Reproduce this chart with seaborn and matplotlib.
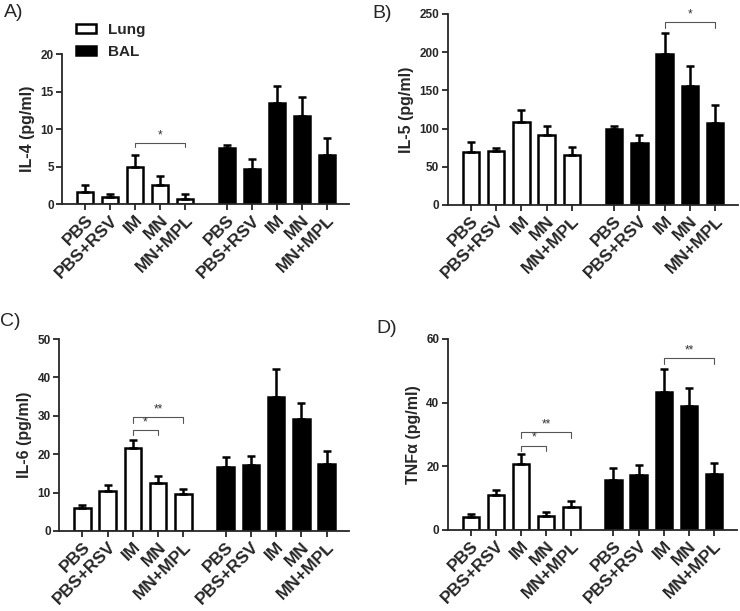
import numpy as np
import pandas as pd
import seaborn as sns
import matplotlib.pyplot as plt

# groups / labels
treatments = ["PBS", "PBS+RSV", "IM", "MN", "MN+MPL"]
groups = ["Lung", "BAL"]

# IL-4 (pg/ml)
il4_lung = [1.6, 0.9, 4.9, 2.5, 0.7]
il4_lung_err = [0.9, 0.5, 1.7, 1.3, 0.6]
il4_bal = [7.5, 4.7, 13.5, 11.8, 6.6]
il4_bal_err = [0.4, 1.3, 2.2, 2.5, 2.2]

# IL-5 (pg/ml)
il5_lung = [70, 71, 108, 91, 66]
il5_lung_err = [12, 3, 16, 12, 10]
il5_bal = [99, 81, 198, 156, 107]
il5_bal_err = [5, 11, 27, 26, 24]

# IL-6 (pg/ml)
il6_lung = [6.1, 10.3, 21.5, 12.6, 9.7]
il6_lung_err = [0.7, 1.8, 2.2, 1.7, 1.3]
il6_bal = [16.7, 17.1, 34.8, 29.1, 17.5]
il6_bal_err = [2.5, 2.5, 7.4, 4.2, 3.4]

# TNFa (pg/ml)
tnf_lung = [4.2, 11.0, 20.6, 4.5, 7.2]
tnf_lung_err = [0.8, 1.7, 3.3, 1.2, 1.8]
tnf_bal = [15.8, 17.3, 43.5, 39.0, 17.5]
tnf_bal_err = [3.7, 3.2, 7.1, 5.7, 3.5]

# significance: (group, idx1, idx2, height, label)
sig_il4 = [("Lung", 2, 4, 8.2, "*")]
sig_il5 = [("BAL", 2, 4, 239, "*")]
sig_il6 = [("Lung", 2, 3, 26.3, "*"), ("Lung", 2, 4, 29.6, "**")]
sig_tnf = [("Lung", 2, 3, 26.5, "*"), ("Lung", 2, 4, 30.7, "**"), ("BAL", 2, 4, 53.9, "**")]

GAP = 1.67
lung_pos = np.arange(5, dtype=float)
bal_pos = lung_pos + 4 + GAP

sns.set_style("ticks")
plt.rcParams["font.family"] = ["Liberation Sans", "DejaVu Sans"]
plt.rcParams["font.weight"] = "bold"
plt.rcParams["axes.linewidth"] = 1.3

fig = plt.figure(figsize=(7.4, 6.11), dpi=100)

panels = [
    ("A)", "IL-4 (pg/ml)", il4_lung, il4_lung_err, il4_bal, il4_bal_err, 20, 5, sig_il4,
     [0.084, 0.666, 0.388, 0.2455]),
    ("B)", "IL-5 (pg/ml)", il5_lung, il5_lung_err, il5_bal, il5_bal_err, 250, 50, sig_il5,
     [0.605, 0.6645, 0.392, 0.3126]),
    ("C)", "IL-6 (pg/ml)", il6_lung, il6_lung_err, il6_bal, il6_bal_err, 50, 10, sig_il6,
     [0.080, 0.131, 0.392, 0.314]),
    ("D)", "TNFα (pg/ml)", tnf_lung, tnf_lung_err, tnf_bal, tnf_bal_err, 60, 20, sig_tnf,
     [0.605, 0.1326, 0.3905, 0.3126]),
]
label_xy = {"A)": (0.005, 0.993), "B)": (0.503, 0.991), "C)": (0.0, 0.488), "D)": (0.508, 0.476)}

for i, (tag, ylabel, lung, lung_err, bal, bal_err, ymax, ystep, sigs, rect) in enumerate(panels):
    ax = fig.add_axes(rect)
    df = pd.DataFrame({
        "pos": np.concatenate([lung_pos, bal_pos]),
        "value": lung + bal,
        "err": lung_err + bal_err,
        "group": ["Lung"] * 5 + ["BAL"] * 5,
    })
    sns.barplot(data=df, x="pos", y="value", hue="group", hue_order=groups,
                palette={"Lung": "white", "BAL": "black"}, native_scale=True,
                dodge=False, width=0.65, errorbar=None, edgecolor="black",
                linewidth=1.8, legend=(i == 0), ax=ax)
    ax.errorbar(df["pos"], df["value"], yerr=[np.zeros(len(df)), df["err"]],
                fmt="none", ecolor="black", elinewidth=1.8, capsize=3.2,
                capthick=1.8, zorder=5)

    ax.set_xlim(-0.92, bal_pos[-1] + 0.9)
    ax.set_ylim(0, ymax)
    ax.set_yticks(np.arange(0, ymax + 1, ystep))
    ax.set_xticks(df["pos"])
    ax.set_xticklabels(treatments * 2, rotation=45, ha="right",
                       rotation_mode="anchor", fontsize=12.5, fontweight="bold")
    for lab in ax.get_yticklabels():
        lab.set_fontsize(8.5)
        lab.set_fontweight("bold")
    ax.tick_params(axis="both", width=1.3, length=4, pad=2)
    ax.set_xlabel("")
    ax.set_ylabel(ylabel, fontsize=11.5, fontweight="bold", labelpad=4)
    sns.despine(ax=ax)

    # significance brackets
    h = 0.028 * ymax
    for grp, a, b, y, txt in sigs:
        pos = lung_pos if grp == "Lung" else bal_pos
        x1, x2 = pos[a], pos[b]
        ax.plot([x1, x1, x2, x2], [y - h, y, y, y - h], color="#555555", lw=0.8,
                clip_on=False)
        ax.text((x1 + x2) / 2, y + 0.01 * ymax, txt, ha="center", va="bottom",
                fontsize=8.5, fontweight="normal", color="#333333")

    if i == 0:
        sns.move_legend(ax, loc="upper left", bbox_to_anchor=(0.0, 1.30),
                        frameon=False, title=None, handlelength=1.3,
                        handleheight=0.55, handletextpad=0.8, labelspacing=0.55,
                        prop={"weight": "bold", "size": 11})

    fig.text(label_xy[tag][0], label_xy[tag][1], tag, fontsize=14,
             fontweight="normal", va="top", ha="left")

fig.savefig("out.png", dpi=100)
